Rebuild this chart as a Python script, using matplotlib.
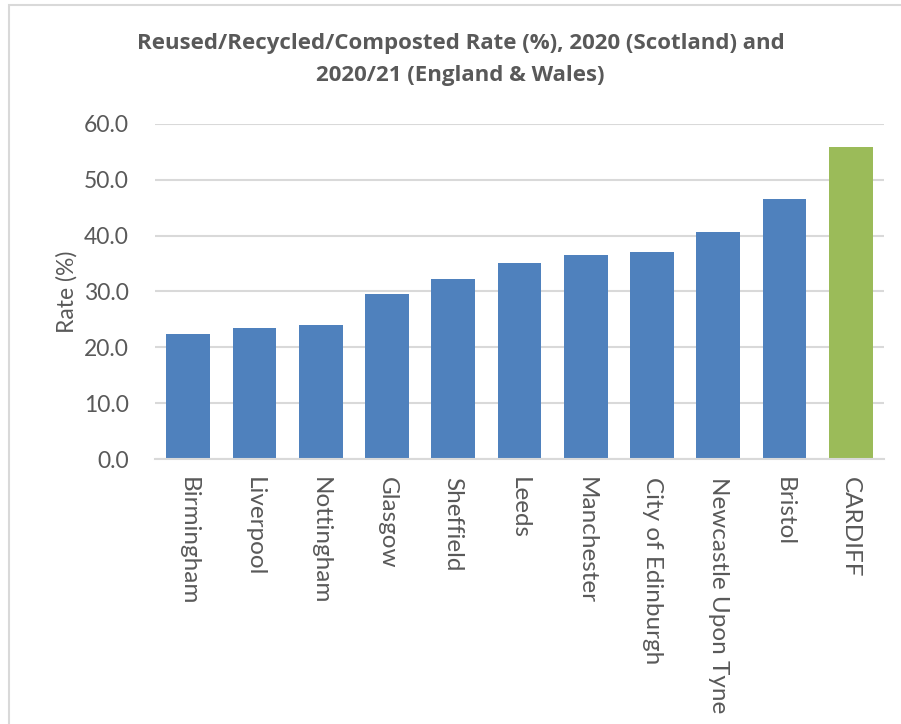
import numpy as np
import matplotlib.pyplot as plt
from matplotlib.patches import Rectangle

cities = ["Birmingham", "Liverpool", "Nottingham", "Glasgow", "Sheffield", "Leeds",
          "Manchester", "City of Edinburgh", "Newcastle Upon Tyne", "Bristol", "CARDIFF"]
rates = [22.4, 23.5, 24.0, 29.6, 32.3, 35.1, 36.6, 37.0, 40.6, 46.5, 55.9]
colours = ["#4F81BD"] * 10 + ["#9BBB59"]
yticks = [0, 10, 20, 30, 40, 50, 60]

plt.rcParams['font.family'] = ['Lato', 'DejaVu Sans']
grey = "#595959"

fig = plt.figure(figsize=(9.01, 7.24), dpi=100)
ax = fig.add_axes([155 / 901, 1 - 459 / 724, (884 - 155) / 901, (459 - 124) / 724])

x = np.arange(len(cities))
ax.bar(x, rates, width=0.66, color=colours, zorder=2)

ax.set_xlim(-0.5, len(cities) - 0.5)
ax.set_ylim(0, 60)
ax.set_yticks(yticks)
ax.set_yticklabels(["%.1f" % v for v in yticks], fontsize=16.5, color=grey)
ax.set_xticks(x)
ax.set_xticklabels(cities, rotation=-90, fontsize=17.5, color=grey, va="top")
ax.tick_params(axis="both", length=0)
ax.tick_params(axis="y", pad=19)
ax.tick_params(axis="x", pad=13)
ax.yaxis.grid(True, color="#D9D9D9", linewidth=1.5, zorder=0)
for s in ["top", "right", "left"]:
    ax.spines[s].set_visible(False)
ax.spines["bottom"].set_color("#D9D9D9")
ax.spines["bottom"].set_linewidth(1.5)
ax.set_ylabel("Rate (%)", fontsize=16.5, color=grey, labelpad=4)

fig.text(0.511, 1 - 43 / 724, "Reused/Recycled/Composted Rate (%), 2020 (Scotland) and",
         ha="center", va="center", fontsize=16, fontweight="bold", color=grey,
         family=["Open Sans", "DejaVu Sans"])
fig.text(0.511, 1 - 75 / 724, "2020/21 (England & Wales)",
         ha="center", va="center", fontsize=16, fontweight="bold", color=grey,
         family=["Open Sans", "DejaVu Sans"])

# chart frame
fig.patches.append(Rectangle((9 / 901, -0.1), 1.2, 1 - 5 / 724 + 0.1, transform=fig.transFigure,
                             fill=False, edgecolor="#D9D9D9", linewidth=1.5))

fig.savefig("out.png", dpi=100)
